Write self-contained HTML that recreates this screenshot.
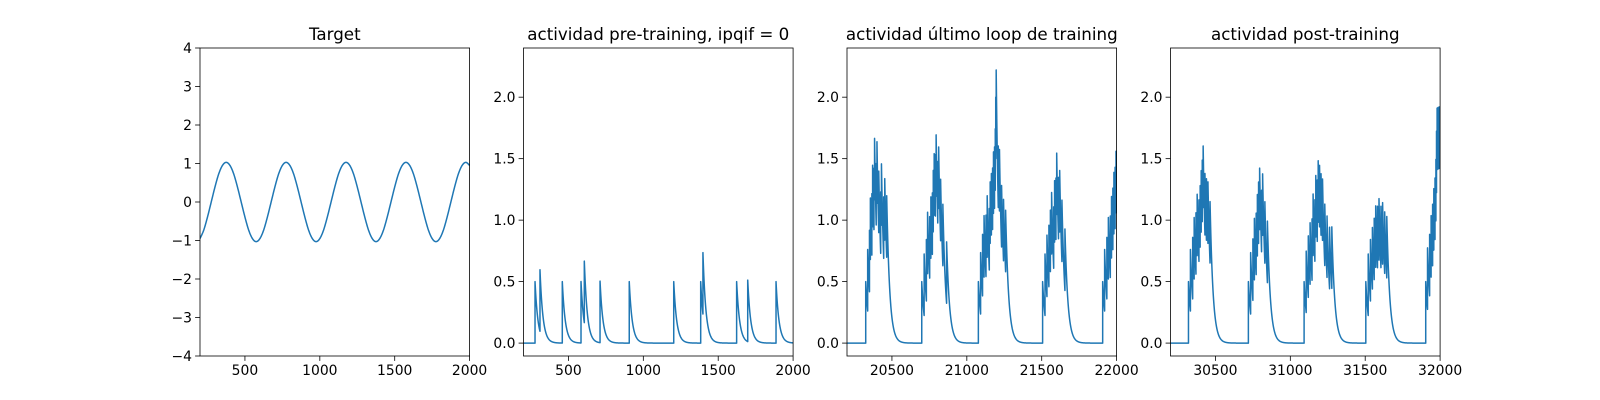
<!DOCTYPE html>
<html><head><meta charset="utf-8"><style>
html,body{margin:0;padding:0;background:#fff;}
svg{display:block;font-family:"DejaVu Sans","Liberation Sans",sans-serif;}
</style></head><body>
<svg id="chart" width="1600" height="400" xmlns="http://www.w3.org/2000/svg"></svg>
<script>
// ---- data ----
const targetX0 = 200, targetStep = 25;
const targetValues = [-0.95,-0.73,-0.39,0,0.39,0.73,0.95,1.03,0.95,0.73,0.39,0,-0.39,-0.73,-0.95,-1.03,
 -0.95,-0.73,-0.39,0,0.39,0.73,0.95,1.03,0.95,0.73,0.39,0,-0.39,-0.73,-0.95,-1.03,
 -0.95,-0.73,-0.39,0,0.39,0.73,0.95,1.03,0.95,0.73,0.39,0,-0.39,-0.73,-0.95,-1.03,
 -0.95,-0.73,-0.39,0,0.39,0.73,0.95,1.03,0.95,0.73,0.39,0,-0.39,-0.73,-0.95,-1.03,
 -0.95,-0.73,-0.39,0,0.39,0.73,0.95,1.03,0.95];
const spikesPre = [277,310,459,584,606,711,906,1203,1383,1398,1623,1697,1886];
const spikesLast = [20325,20338,20350,20356,20366,20371,20380,20384,20395,20400,20412,20425,20430,20445,20452,20465,
 20699,20715,20730,20738,20752,20760,20770,20776,20782,20790,20795,20806,20812,20825,20840,20865,
 21077,21092,21105,21115,21128,21136,21150,21156,21164,21172,21178,21185,21190,21193,21196,21210,21218,21232,21245,21259,
 21506,21522,21535,21548,21558,21566,21580,21586,21595,21600,21612,21620,21635,21655,
 21907,21920,21935,21945,21958,21966,21975,21982,21990,21996];
const spikesPost = [30320,30333,30348,30358,30370,30378,30390,30398,30405,30412,30418,30430,30440,30450,30464,
 30720,30735,30750,30760,30772,30780,30788,30795,30808,30815,30830,30847,
 31092,31106,31120,31132,31145,31152,31164,31170,31180,31186,31195,31205,31215,31230,31245,31262,31277,
 31504,31520,31535,31548,31560,31570,31582,31592,31605,31616,31630,31644,
 31904,31916,31930,31940,31950,31958,31966,31972,31976,31980,31986,31992,31998];
const spikeJump = 0.5, decayTau = 20;
const titles = ["Target","actividad pre-training, ipqif = 0","actividad último loop de training","actividad post-training"];
const xTicks1 = [500,1000,1500,2000];
const xTicks3 = [20500,21000,21500,22000];
const xTicks4 = [30500,31000,31500,32000];
const yTicks1 = [-4,-3,-2,-1,0,1,2,3,4];
const yTicksAct = [0,0.5,1.0,1.5,2.0];
const yTickLabelsAct = ["0.0","0.5","1.0","1.5","2.0"];

// ---- drawing ----
const NS="http://www.w3.org/2000/svg";
const svg=document.getElementById('chart');
function mk(tag,attrs,parent){const e=document.createElementNS(NS,tag);for(const k in attrs)e.setAttribute(k,attrs[k]);(parent||svg).appendChild(e);return e;}
const axTop=48, axBottom=356, W=269.6, gap=53.9, L0=200;

function trace(spikes,x0,x1){
  const pts=[];let r=0,si=0;const s=spikes.slice().sort((a,b)=>a-b);
  const k=Math.exp(-1/decayTau);
  for(let t=x0;t<=x1;t++){
    r*=k;
    while(si<s.length&&s[si]<=t){ pts.push([t,r]); r+=spikeJump; si++; }
    pts.push([t,r]);
  }
  return pts;
}

function panel(i,xmin,xmax,ymin,ymax,xt,xtl,yt,ytl,pts,name){
  const L=L0+i*(W+gap);
  const g=mk('g',{});
  
  
  const sx=v=>L+(v-xmin)/(xmax-xmin)*W;
  const sy=v=>axBottom-(v-ymin)/(ymax-ymin)*(axBottom-axTop);
  const cid='clip'+i;
  const cp=mk('clipPath',{id:cid},g);mk('rect',{x:L,y:axTop,width:W,height:axBottom-axTop},cp);
  const d=pts.map((p,j)=>(j?'L':'M')+sx(p[0]).toFixed(2)+' '+sy(p[1]).toFixed(2)).join('');
  const line=mk('path',{d:d,fill:'none',stroke:'#1f77b4','stroke-width':1.5,'stroke-linejoin':'round','clip-path':'url(#'+cid+')'},g);
  
  
  const fr=mk('rect',{x:L,y:axTop,width:W,height:axBottom-axTop,fill:'none',stroke:'#000','stroke-width':0.8},g);
  
  
  xt.forEach((v,j)=>{const x=sx(v);mk('line',{x1:x,x2:x,y1:axBottom,y2:axBottom+4.9,stroke:'#000','stroke-width':0.8},g);
    const t=mk('text',{x:x,y:axBottom+19,'text-anchor':'middle','font-size':13.9,fill:'#000'},g);t.textContent=xtl[j];
    
    });
  yt.forEach((v,j)=>{const y=sy(v);mk('line',{x1:L-4.9,x2:L,y1:y,y2:y,stroke:'#000','stroke-width':0.8},g);
    const t=mk('text',{x:L-8,y:y+5,'text-anchor':'end','font-size':13.9,fill:'#000'},g);t.textContent=ytl[j];
    
    });
  const tt=mk('text',{x:L+W/2,y:axTop-8,'text-anchor':'middle','font-size':16.7,fill:'#000'},g);tt.textContent=titles[i];
  
  
}
const tpts=targetValues.map((v,j)=>[targetX0+j*targetStep,v]);
function smooth(p){const out=[];for(let i=0;i<p.length-1;i++){const p0=p[Math.max(0,i-1)],p1=p[i],p2=p[i+1],p3=p[Math.min(p.length-1,i+2)];
  for(let s=0;s<8;s++){const t=s/8,t2=t*t,t3=t2*t;
   const f=(a,b,c,d)=>0.5*(2*b+(-a+c)*t+(2*a-5*b+4*c-d)*t2+(-a+3*b-3*c+d)*t3);
   out.push([f(p0[0],p1[0],p2[0],p3[0]),f(p0[1],p1[1],p2[1],p3[1])]);}}out.push(p[p.length-1]);return out;}
const yminA=-0.105, ymaxA=2.4;
panel(0,200,2000,-4,4,xTicks1,xTicks1.map(String),yTicks1,yTicks1.map(v=>v<0?'\u2212'+(-v):String(v)),smooth(tpts),'target-panel');
panel(1,200,2000,yminA,ymaxA,xTicks1,xTicks1.map(String),yTicksAct,yTickLabelsAct,trace(spikesPre,200,2000),'pre-training-panel');
panel(2,20200,22000,yminA,ymaxA,xTicks3,xTicks3.map(String),yTicksAct,yTickLabelsAct,trace(spikesLast,20200,22000),'last-loop-panel');
panel(3,30200,32000,yminA,ymaxA,xTicks4,xTicks4.map(String),yTicksAct,yTickLabelsAct,trace(spikesPost,30200,32000),'post-training-panel');
</script>
</body></html>
